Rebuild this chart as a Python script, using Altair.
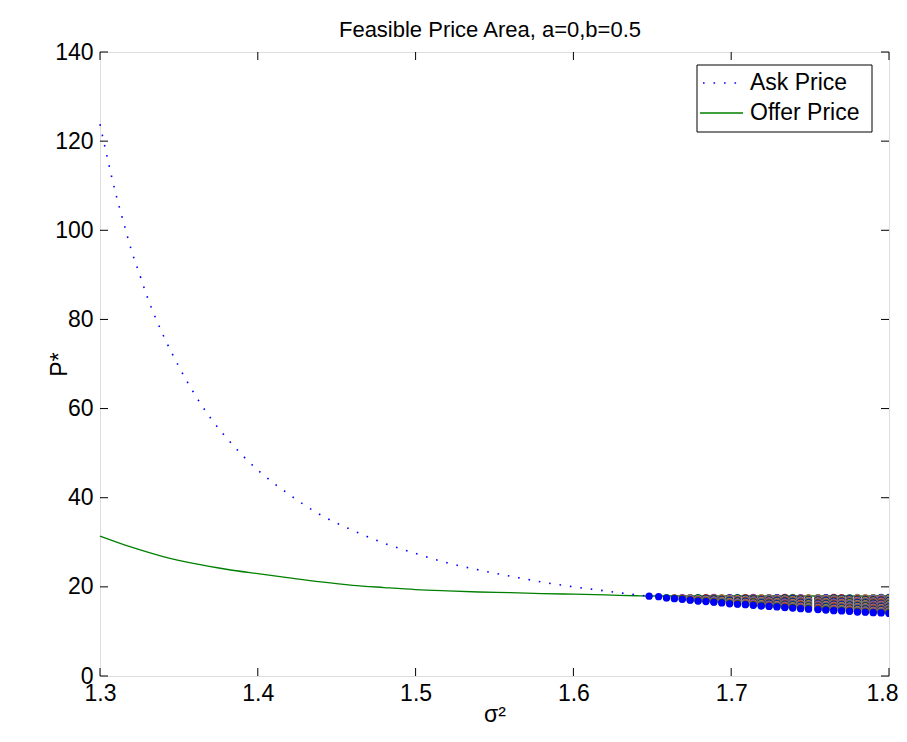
import altair as alt
import pandas as pd

# ---------------- data ----------------
ask_x = [1.300, 1.305, 1.310, 1.315, 1.320, 1.325, 1.330, 1.340, 1.350, 1.360,
         1.370, 1.380, 1.390, 1.400, 1.420, 1.440, 1.460, 1.480, 1.500, 1.520,
         1.540, 1.560, 1.580, 1.600, 1.620, 1.640, 1.648]
ask_p = [123.8, 115.7, 108.2, 101.7, 95.4, 90.2, 85.0, 76.5, 69.4, 63.2,
         57.9, 53.5, 49.6, 46.2, 40.7, 36.1, 32.7, 29.8, 27.5, 25.4,
         23.8, 22.4, 21.1, 20.0, 19.1, 18.2, 17.9]

offer_x = [1.30, 1.32, 1.34, 1.36, 1.38, 1.40, 1.42, 1.44, 1.46, 1.48, 1.50,
           1.52, 1.54, 1.56, 1.58, 1.60, 1.62, 1.64, 1.648, 1.70, 1.75, 1.80]
offer_p = [31.4, 28.9, 26.8, 25.2, 23.95, 22.95, 22.0, 21.1, 20.35, 19.85, 19.4,
           19.1, 18.85, 18.7, 18.5, 18.35, 18.2, 18.0, 17.95, 17.95, 17.95, 17.95]

# feasible-price columns (sigma^2 grid) : lowest (ask) price per column
col_x = [1.648, 1.654, 1.659, 1.664, 1.669, 1.674, 1.679, 1.684, 1.689, 1.694,
         1.699, 1.704, 1.709, 1.714, 1.719, 1.724, 1.729, 1.734, 1.739, 1.744,
         1.749, 1.755, 1.760, 1.765, 1.770, 1.775, 1.780, 1.785, 1.790, 1.795, 1.800]
col_low = [17.9, 17.8, 17.5, 17.35, 17.2, 17.0, 16.8, 16.7, 16.55, 16.4,
           16.2, 16.1, 16.0, 15.85, 15.7, 15.6, 15.5, 15.35, 15.25, 15.1,
           15.0, 14.9, 14.8, 14.65, 14.6, 14.5, 14.35, 14.3, 14.2, 14.15, 14.05]
col_top = 17.6
price_step = 0.1
level_colors = ["#0000ff", "#008000", "#ff0000", "#00bfbf", "#bf00bf", "#bfbf00", "#404040"]

x_ticks = [1.3, 1.4, 1.5, 1.6, 1.7, 1.8]
y_ticks = [0, 20, 40, 60, 80, 100, 120, 140]
legend_labels = ["Ask Price", "Offer Price"]
title_text = ["Feasible Price Area, a=0,b=0.5"]

# ---------------- tables ----------------
ask_df = pd.DataFrame({"s": ask_x, "p": ask_p})
offer_df = pd.DataFrame({"s": offer_x, "p": offer_p})

rows = []
order = 0
for cx, lo in zip(col_x, col_low):
    n = max(0, int(round((col_top - lo) / price_step)))
    levels = [(k, lo + k * price_step) for k in range(n + 1)]
    for k, p in reversed(levels):  # top first, ask (blue) drawn last
        rows.append({"s": cx, "p": p, "c": level_colors[k % len(level_colors)], "o": order})
        order += 1
pts_df = pd.DataFrame(rows)

W, H = 789, 624
FONT = "Liberation Sans"
FS = 23

xs = alt.Scale(domain=[1.3, 1.8], nice=False, zero=False)
ys = alt.Scale(domain=[0, 140], nice=False, zero=True)
xaxis = alt.Axis(values=x_ticks, format=".1f", title="σ²", domain=False, ticks=False, grid=False,
                 labelFont=FONT, labelFontSize=FS, labelColor="black", labelPadding=6,
                 labelOffset={"condition": {"test": "datum.value >= 1.79", "value": -7}, "value": 0},
                 titleFont=FONT, titleFontSize=FS, titleFontWeight="normal", titleColor="black",
                 titleX=W / 2, titleY=45, titleBaseline="alphabetic", labelFlush=False)
yaxis = alt.Axis(values=y_ticks, format="d", title="P*", domain=False, ticks=False, grid=False,
                 labelFont=FONT, labelFontSize=FS, labelColor="black", labelPadding=7,
                 titleFont=FONT, titleFontSize=FS, titleFontWeight="normal", titleColor="black",
                 titleX=-34, titleY=H / 2, titleBaseline="alphabetic", titleAngle=-90, labelFlush=False)


def X(f):
    return alt.X(f, type="quantitative", scale=xs, axis=xaxis)


def Y(f):
    return alt.Y(f, type="quantitative", scale=ys, axis=yaxis)


offer_line = alt.Chart(offer_df).mark_line(color="#008000", strokeWidth=1.3, interpolate="monotone").encode(
    x=X("s"), y=Y("p"))
ask_line = alt.Chart(ask_df).mark_line(color="#0000ff", strokeWidth=1.6, strokeDash=[1.6, 8.9],
                                       interpolate="monotone").encode(x=X("s"), y=Y("p"))
pts = alt.Chart(pts_df).mark_circle(size=52, opacity=1, clip=True).encode(
    x=X("s"), y=Y("p"), color=alt.Color("c:N", scale=None), order=alt.Order("o:Q"))

xt_df = pd.DataFrame({"t": x_ticks})
yt_df = pd.DataFrame({"t": y_ticks})
tk = dict(color="black", strokeWidth=1)
xt_bot = alt.Chart(xt_df).mark_rule(**tk).encode(x=X("t"), y=alt.value(H), y2=alt.value(H - 8))
xt_top = alt.Chart(xt_df).mark_rule(**tk).encode(x=X("t"), y=alt.value(0), y2=alt.value(8))
yt_left = alt.Chart(yt_df).mark_rule(**tk).encode(y=Y("t"), x=alt.value(0), x2=alt.value(8))
yt_right = alt.Chart(yt_df).mark_rule(**tk).encode(y=Y("t"), x=alt.value(W), x2=alt.value(W - 8))

one = pd.DataFrame({"a": [0]})
leg_box = alt.Chart(one).mark_rect(fill="white", stroke="black", strokeWidth=1).encode(
    x=alt.value(597), x2=alt.value(772), y=alt.value(13), y2=alt.value(80))
leg_ask = alt.Chart(one).mark_rule(color="#0000ff", strokeWidth=1.6, strokeDash=[1.6, 8.9]).encode(
    x=alt.value(603), x2=alt.value(644), y=alt.value(31))
leg_offer = alt.Chart(one).mark_rule(color="#008000", strokeWidth=1.3).encode(
    x=alt.value(600), x2=alt.value(643), y=alt.value(61))
leg_text = alt.Chart(pd.DataFrame({"lab": legend_labels, "yy": [31, 61]})).mark_text(
    align="left", baseline="middle", font=FONT, fontSize=FS, color="black").encode(
    x=alt.value(650), y=alt.Y("yy:Q", scale=None, axis=None), text="lab:N")

title_mark = alt.Chart(pd.DataFrame({"t": title_text})).mark_text(
    align="center", baseline="alphabetic", font=FONT, fontSize=FS - 1, color="black").encode(
    x=alt.value(390), y=alt.value(-15), text="t:N")

chart = alt.layer(
    offer_line, ask_line, pts, xt_bot, xt_top, yt_left, yt_right,
    leg_box, leg_ask, leg_offer, leg_text, title_mark
).properties(
    width=W, height=H,
    autosize=alt.AutoSizeParams(type="none"),
    padding={"left": 92, "top": 44, "right": 10, "bottom": 56},
).configure_view(stroke="black", strokeWidth=1).configure(background="white")

chart.save("out.html", embed_options={"renderer": "svg", "actions": False})
